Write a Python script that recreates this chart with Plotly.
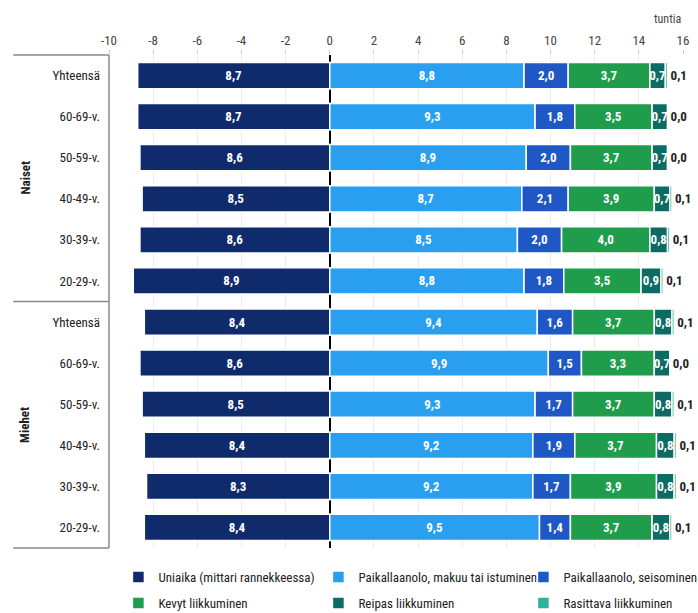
import plotly.graph_objects as go

groups = ["Naiset", "Miehet"]
ages = ["Yhteensä", "60-69-v.", "50-59-v.", "40-49-v.", "30-39-v.", "20-29-v."]

series_names = [
    "Uniaika (mittari rannekkeessa)",
    "Paikallaanolo, makuu tai istuminen",
    "Paikallaanolo, seisominen",
    "Kevyt liikkuminen",
    "Reipas liikkuminen",
    "Rasittava liikkuminen",
]
uni = [8.7, 8.7, 8.6, 8.5, 8.6, 8.9, 8.4, 8.6, 8.5, 8.4, 8.3, 8.4]
makuu = [8.8, 9.3, 8.9, 8.7, 8.5, 8.8, 9.4, 9.9, 9.3, 9.2, 9.2, 9.5]
seiso = [2.0, 1.8, 2.0, 2.1, 2.0, 1.8, 1.6, 1.5, 1.7, 1.9, 1.7, 1.4]
kevyt = [3.7, 3.5, 3.7, 3.9, 4.0, 3.5, 3.7, 3.3, 3.7, 3.7, 3.9, 3.7]
reipas = [0.7, 0.7, 0.7, 0.7, 0.8, 0.9, 0.8, 0.7, 0.8, 0.8, 0.8, 0.8]
rasitt = [0.1, 0.0, 0.0, 0.1, 0.1, 0.1, 0.1, 0.0, 0.1, 0.1, 0.1, 0.1]

colors = ["#0f2b6c", "#2a9ff0", "#1f58c4", "#1f9d4c", "#0c6c64", "#2bb39b"]
legend_widths = [145, 150, None, 145, 150, None]
x_ticks = [-10, -8, -6, -4, -2, 0, 2, 4, 6, 8, 10, 12, 14, 16]

keys = [f"{g}|{a}" for g in groups for a in ages]
labels = [a for g in groups for a in ages]

FONT = "Liberation Sans Narrow, Roboto Condensed, DejaVu Sans Condensed, Arial Narrow, sans-serif"


def fmt(v):
    return f"{v:.1f}".replace(".", ",")


fig = go.Figure()
values = [uni, makuu, seiso, kevyt, reipas, rasitt]
for i, (name, vals, col) in enumerate(zip(series_names, values, colors)):
    xs = [-v for v in vals] if i == 0 else vals
    last = i == len(values) - 1
    kw = {}
    if legend_widths[i] is not None:
        kw["legendwidth"] = legend_widths[i]
    fig.add_trace(go.Bar(
        y=keys, x=xs, orientation="h", name=name,
        marker=dict(color=col, line=dict(color="white", width=1.5)),
        text=[fmt(v) for v in vals],
        textposition="outside" if last else "inside",
        insidetextanchor="middle",
        textangle=0,
        insidetextfont=dict(color="white", size=13, family=FONT, weight="bold"),
        outsidetextfont=dict(color="#222222", size=13, family=FONT, weight="bold"),
        cliponaxis=False,
        legend="legend" if i < 3 else "legend2",
        hoverinfo="skip",
        **kw,
    ))

fig.update_layout(
    width=698, height=613,
    margin=dict(l=109, r=15, t=55, b=65, autoexpand=False),
    barmode="relative",
    bargap=0.36,
    plot_bgcolor="white", paper_bgcolor="white",
    font=dict(family=FONT, size=13, color="#222222"),
    uniformtext=dict(minsize=13, mode="show"),
    xaxis=dict(
        side="top", range=[-10, 16], tickvals=x_ticks,
        ticktext=[str(t) for t in x_ticks],
        showgrid=True, gridcolor="#ececec", gridwidth=1,
        zeroline=True, zerolinecolor="black", zerolinewidth=2,
        ticks="outside", ticklen=4, tickcolor="#cccccc",
        tickfont=dict(size=13, color="#444444"),
        showline=False,
    ),
    yaxis=dict(
        categoryorder="array", categoryarray=keys,
        tickvals=keys, ticktext=labels,
        autorange="reversed",
        showgrid=False, zeroline=False, showline=False,
        ticks="", ticklabelstandoff=8,
        tickfont=dict(size=13, color="#222222"),
    ),
    legend=dict(
        orientation="h", x=-0.001, xanchor="left", y=-0.0284, yanchor="top",
        indentation=10, font=dict(size=13, color="#222222"), itemwidth=30,
    ),
    legend2=dict(
        orientation="h", x=-0.001, xanchor="left", y=-0.081, yanchor="top",
        indentation=10, font=dict(size=13, color="#222222"), itemwidth=30,
    ),
    showlegend=True,
)

# Left label panel frame
line_style = dict(color="#8a8a8a", width=1.5)
x_left = -0.167
fig.add_shape(type="line", xref="paper", yref="paper", x0=x_left, x1=0, y0=1, y1=1, line=line_style)
fig.add_shape(type="line", xref="paper", yref="paper", x0=x_left, x1=0, y0=0, y1=0, line=line_style)
fig.add_shape(type="line", xref="paper", yref="paper", x0=x_left, x1=0, y0=0.5, y1=0.5, line=line_style)
fig.add_shape(type="line", xref="paper", yref="paper", x0=0, x1=0, y0=0, y1=1, line=line_style)

for g, yp in zip(groups, [0.75, 0.25]):
    fig.add_annotation(
        text=g, xref="paper", yref="paper", x=-0.146, y=yp, textangle=-90,
        xanchor="center", yanchor="middle",
        showarrow=False, font=dict(size=13, color="#222222", family=FONT, weight="bold"),
    )

fig.add_annotation(
    text="tuntia", xref="paper", yref="paper", x=1.0, y=1.0, yshift=36,
    xanchor="right", yanchor="middle", showarrow=False,
    font=dict(size=12, color="#444444"),
)

fig.write_html("out.html")
